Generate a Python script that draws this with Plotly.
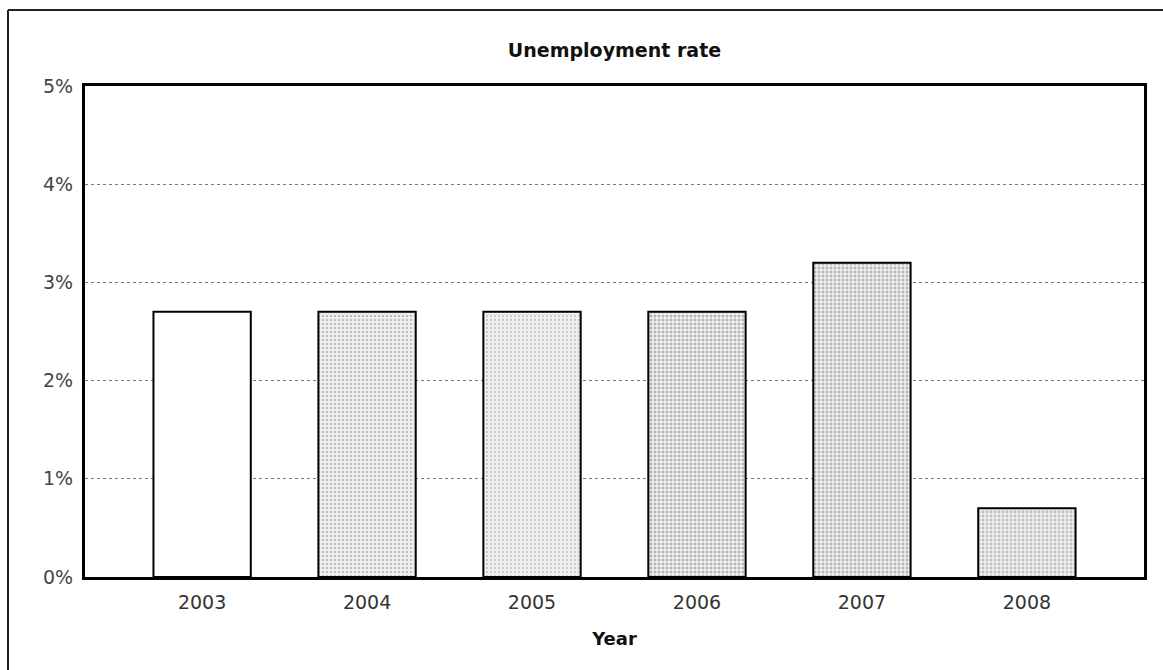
import plotly.graph_objects as go

years = ["2003", "2004", "2005", "2006", "2007", "2008"]
rates = [2.7, 2.7, 2.7, 2.7, 3.2, 0.7]
y_ticks = [0, 1, 2, 3, 4, 5]
y_tick_labels = ["0%", "1%", "2%", "3%", "4%", "5%"]

# grainy grey shading of each bar (first one left plain)
shade_density = [0.0, 0.3, 0.25, 0.45, 0.45, 0.4]
shade_colors = ["#ffffff", "#8a8a8a", "#a0a0a0", "#777777", "#7c7c7c", "#8a8a8a"]

FONT = "DejaVu Sans"

fig = go.Figure(
    go.Bar(
        x=years,
        y=rates,
        width=0.59,
        marker=dict(
            color="#ffffff",
            line=dict(color="#000000", width=2),
            pattern=dict(
                shape=["", ".", ".", ".", ".", "."],
                fgcolor=shade_colors,
                bgcolor="#f0f0f0",
                solidity=shade_density,
                size=4,
            ),
        ),
        showlegend=False,
    )
)

fig.update_layout(
    width=1163,
    height=670,
    margin=dict(l=85, r=19, t=86, b=93),
    paper_bgcolor="#ffffff",
    plot_bgcolor="#ffffff",
    font=dict(family=FONT, size=19, color="#333333"),
    title=dict(
        text="<b>Unemployment rate</b>",
        x=(85 + 1144) / 2 / 1163,
        xanchor="center",
        y=1 - 50 / 670,
        yanchor="middle",
        font=dict(family=FONT, size=19, color="#111111"),
    ),
    xaxis=dict(
        type="category",
        range=[-0.71, 5.71],
        showgrid=False,
        showline=True,
        linecolor="#000000",
        linewidth=3,
        mirror=True,
        ticks="",
        ticklabelstandoff=6,
        tickfont=dict(family=FONT, size=19, color="#333333"),
        title=dict(
            text="<b>Year</b>",
            font=dict(family=FONT, size=18, color="#111111"),
            standoff=21,
        ),
    ),
    yaxis=dict(
        range=[0, 5],
        tickvals=y_ticks,
        ticktext=y_tick_labels,
        showgrid=True,
        gridcolor="#777777",
        griddash="dot",
        gridwidth=1,
        showline=True,
        linecolor="#000000",
        linewidth=3,
        mirror=True,
        ticks="",
        ticklabelstandoff=5,
        zeroline=False,
        tickfont=dict(family=FONT, size=19, color="#444444"),
    ),
)

# outer frame: left and top edges of the chart panel
px0, pw = 85, 1059
py_bottom, ph = 577, 491
def xp(px):
    return (px - px0) / pw
def yp(py):
    return (py_bottom - py) / ph

frame = dict(type="line", xref="paper", yref="paper",
             line=dict(color="#222222", width=2), layer="above")
fig.add_shape(x0=xp(8), x1=xp(8), y0=yp(672), y1=yp(10), **frame)
fig.add_shape(x0=xp(8), x1=xp(1165), y0=yp(10), y1=yp(10), **frame)

fig.write_html("out.html")
